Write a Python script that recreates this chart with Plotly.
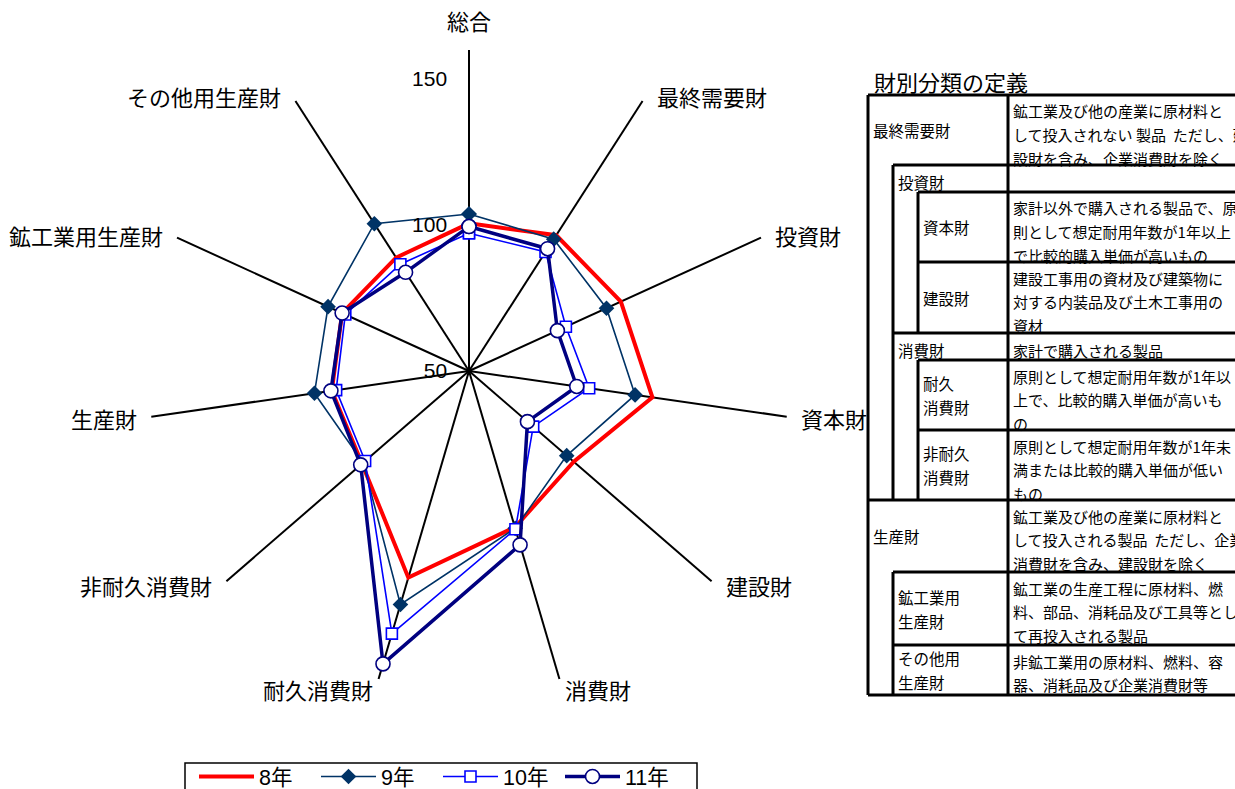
import math
import plotly.graph_objects as go

# 財別 production index by category (radar spokes, clockwise from top)
categories = ["総合", "最終需要財", "投資財", "資本財", "建設財", "消費財",
              "耐久消費財", "非耐久消費財", "生産財", "鉱工業用生産財", "その他用生産財"]

series_names = ["8年", "9年", "10年", "11年"]
values_h8 = [100.6, 105.3, 107.2, 113.5, 97.5, 105.8, 123.8, 98.5, 97.5, 97.8, 96.2]
values_h9 = [103.8, 103.7, 101.8, 107.5, 94.3, 106.2, 133.4, 98.0, 103.5, 103.1, 110.0]
values_h10 = [97.2, 98.5, 86.5, 91.6, 79.1, 106.5, 143.8, 97.1, 96.0, 96.6, 93.5]
values_h11 = [99.5, 99.8, 83.3, 87.3, 76.5, 112.1, 154.6, 99.1, 97.8, 97.8, 90.2]

radial_ticks = [50, 100, 150]

# definition table: (left label lines, label indent level, definition lines)
table_rows = [
    (["最終需要財"], 0, ["鉱工業及び他の産業に原材料と", "して投入されない 製品  ただし、建", "設財を含み、企業消費財を除く"]),
    (["投資財"], 1, []),
    (["資本財"], 2, ["家計以外で購入される製品で、原", "則として想定耐用年数が1年以上", "で比較的購入単価が高いもの"]),
    (["建設財"], 2, ["建設工事用の資材及び建築物に", "対する内装品及び土木工事用の", "資材"]),
    (["消費財"], 1, ["家計で購入される製品"]),
    (["耐久", "消費財"], 2, ["原則として想定耐用年数が1年以", "上で、比較的購入単価が高いも", "の"]),
    (["非耐久", "消費財"], 2, ["原則として想定耐用年数が1年未", "満または比較的購入単価が低い", "もの"]),
    (["生産財"], 0, ["鉱工業及び他の産業に原材料と", "して投入される製品  ただし、企業", "消費財を含み、建設財を除く"]),
    (["鉱工業用", "生産財"], 1, ["鉱工業の生産工程に原材料、燃", "料、部品、消耗品及び工具等とし", "て再投入される製品"]),
    (["その他用", "生産財"], 1, ["非鉱工業用の原材料、燃料、容", "器、消耗品及び企業消費財等"]),
]

W, H = 1235, 789
FONT = "Liberation Sans, Arial, Noto Sans CJK JP"
JFONT = "Noto Sans CJK JP, Liberation Sans"


def px(x):
    return x / W


def py(y):
    return 1 - y / H


def closed(seq):
    return list(seq) + [seq[0]]


theta = closed(categories)
fig = go.Figure()

fig.add_trace(go.Scatterpolar(
    r=closed(values_h8), theta=theta, name=series_names[0], mode="lines",
    line=dict(color="#FF0000", width=4)))
fig.add_trace(go.Scatterpolar(
    r=closed(values_h9), theta=theta, name=series_names[1], mode="lines+markers",
    line=dict(color="#003366", width=1.6),
    marker=dict(symbol="diamond", size=12, color="#003366")))
fig.add_trace(go.Scatterpolar(
    r=closed(values_h10), theta=theta, name=series_names[2], mode="lines+markers",
    line=dict(color="#0000FF", width=1.6),
    marker=dict(symbol="square", size=11, color="white",
                line=dict(color="#0000FF", width=1.6))))
fig.add_trace(go.Scatterpolar(
    r=closed(values_h11), theta=theta, name=series_names[3], mode="lines+markers",
    line=dict(color="#000080", width=3.5),
    marker=dict(symbol="circle", size=14, color="white",
                line=dict(color="#000080", width=1.6))))

# polar area: center (469, 371), radius 321 px
cx, cy, rad = 469, 371, 321
fig.update_layout(
    width=W, height=H,
    margin=dict(l=0, r=0, t=0, b=0, autoexpand=False),
    paper_bgcolor="white", plot_bgcolor="white",
    font=dict(family=JFONT, size=19, color="black"),
    polar=dict(
        domain=dict(x=[px(cx - rad), px(cx + rad)], y=[py(cy + rad), py(cy - rad)]),
        bgcolor="white",
        radialaxis=dict(
            range=[50, 160], tickvals=radial_ticks, ticktext=[str(v) for v in radial_ticks],
            angle=90, side="counterclockwise", tickangle=90, showgrid=False, showline=False,
            ticks="outside", ticklen=14, tickcolor="rgba(0,0,0,0)",
            tickfont=dict(family=FONT, size=21, color="black")),
        angularaxis=dict(
            direction="clockwise", rotation=90, showline=False,
            showgrid=True, gridcolor="black", gridwidth=1.5,
            showticklabels=False, ticks=""),
    ),
    showlegend=True,
    legend=dict(
        orientation="h", x=px(194), y=py(756), xanchor="left", yanchor="top",
        borderwidth=0, bgcolor="rgba(0,0,0,0)",
        font=dict(family=FONT, size=21.5, color="black"),
        itemwidth=55, entrywidth=52, entrywidthmode="pixels",
    ),
)

shapes = []
annotations = []

# category labels just beyond the end of each spoke
n_cat = len(categories)
for k, cat in enumerate(categories):
    a = 2 * math.pi * k / n_cat
    ux, uy = math.sin(a), -math.cos(a)
    ex, ey = cx + rad * ux, cy + rad * uy
    if uy < -0.99:
        x, y, xa, ya = ex, ey - 12, "center", "bottom"
    elif uy > 0.9:
        sgn = 1 if ux > 0 else -1
        x, y, xa, ya = ex + 3.5 * sgn, ey - 8, ("left" if ux > 0 else "right"), "top"
    else:
        sgn = 1 if ux > 0 else -1
        x, y, xa, ya = ex + 12 * sgn, ey + 6 * uy, ("left" if ux > 0 else "right"), "middle"
    annotations.append(dict(
        x=px(x), y=py(y), xref="paper", yref="paper", text=cat, showarrow=False,
        xanchor=xa, yanchor=ya, font=dict(family=JFONT, size=22, color="black")))

# legend frame
shapes.append(dict(type="rect", xref="paper", yref="paper",
                   x0=px(185), x1=px(697), y0=py(763), y1=py(800),
                   line=dict(color="black", width=1.5), fillcolor="rgba(0,0,0,0)"))

# definition table on the right
annotations.append(dict(
    x=px(872), y=py(81), xref="paper", yref="paper", text="財別分類の定義",
    showarrow=False, xanchor="left", yanchor="middle",
    font=dict(family=JFONT, size=22, color="black")))

row_bounds = [95, 165, 192, 262, 333, 360, 430, 500, 572, 645, 695]
indent_x = [868, 893, 918]
col_x = 1008
right_x = 1245

for i, (labels, level, lines) in enumerate(table_rows):
    top, bot = row_bounds[i], row_bounds[i + 1]
    mid = (top + bot) / 2
    n = len(labels)
    for j, lab in enumerate(labels):
        yy = mid + (j - (n - 1) / 2) * 24
        if n == 1 and level < 2 and bot - top < 40:
            yy = top + 17
        annotations.append(dict(
            x=px(indent_x[level] + 3), y=py(yy), xref="paper", yref="paper",
            text=lab, showarrow=False, xanchor="left", yanchor="middle",
            font=dict(family=JFONT, size=15.5, color="black")))
    for j, ln in enumerate(lines):
        if len(lines) == 1 and bot - top < 40:
            yy = top + 17
        else:
            yy = top + 16 + j * 23.5
        annotations.append(dict(
            x=px(col_x + 3), y=py(yy), xref="paper", yref="paper",
            text=ln, showarrow=False, xanchor="left", yanchor="middle",
            font=dict(family=JFONT, size=15, color="black")))


def hline(x0, y, x1=right_x):
    shapes.append(dict(type="line", xref="paper", yref="paper",
                       x0=px(x0), x1=px(x1), y0=py(y), y1=py(y),
                       line=dict(color="black", width=3)))


def vline(x, y0, y1):
    shapes.append(dict(type="line", xref="paper", yref="paper",
                       x0=px(x), x1=px(x), y0=py(y0), y1=py(y1),
                       line=dict(color="black", width=3)))


hline(868, 95)
hline(893, 165)
hline(918, 192)
hline(918, 262)
hline(893, 333)
hline(918, 360)
hline(918, 430)
hline(868, 500)
hline(893, 572)
hline(893, 645)
hline(868, 695)
vline(868, 95, 695)
vline(col_x, 95, 695)
vline(893, 165, 500)
vline(918, 192, 333)
vline(918, 360, 500)
vline(893, 572, 695)

fig.update_layout(shapes=shapes, annotations=annotations)

fig.write_html("out.html")
